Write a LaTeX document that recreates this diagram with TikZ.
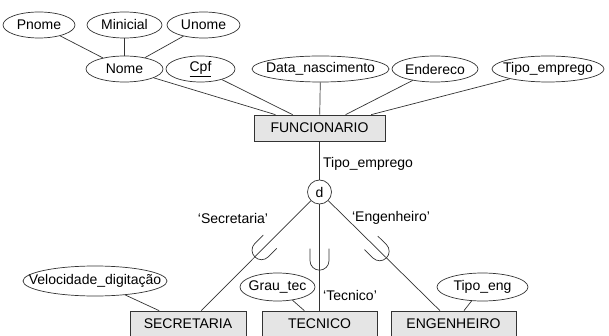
\documentclass[tikz,border=0pt]{standalone}
\usepackage{fontspec}
\setmainfont{Liberation Sans}
\usetikzlibrary{shapes.geometric}

\tikzset{
  attr/.style={ellipse, draw, minimum height=26pt, inner sep=0pt},
  entity/.style={rectangle, draw, fill=black!10, minimum height=26pt, inner sep=0pt},
  disj/.style={circle, draw, fill=white, minimum size=24pt, inner sep=0pt},
  pics/unioncup/.style={code={\draw (-12,-9.5) -- (0,-9.5) arc (-90:90:9.5) -- (-12,9.5);}}
}

\begin{document}
\begin{tikzpicture}[x=1pt, y=-1pt, line width=0.7pt, draw=black!80,
    font=\fontsize{14}{16}\selectfont]
    \useasboundingbox (0,0) rectangle (609,336);

    % atributos compostos
    \node[attr, minimum width=72pt, label=center:Pnome] (pnome) at (39,25) {};
    \node[attr, minimum width=75pt, label=center:Minicial] (minicial) at (124.5,25) {};
    \node[attr, minimum width=73pt, label=center:Unome] (unome) at (203.5,25) {};

    % atributos de FUNCIONARIO
    \node[attr, minimum width=77pt, label=center:Nome] (nome) at (124.5,69) {};
    \node[attr, minimum width=69pt, label=center:\underline{Cpf}] (cpf) at (200.5,69) {};
    \node[attr, minimum width=137pt, label=center:Data\_nascimento] (datanasc) at (320.5,69) {};
    \node[attr, minimum width=86pt, label=center:Endereco] (endereco) at (435,69) {};
    \node[attr, minimum width=112pt, label=center:Tipo\_emprego] (tipoemp) at (548,69) {};

    \node[entity, minimum width=131pt] (func) at (319.5,128) {FUNCIONARIO};
    \node[disj] (d) at (319.5,192) {d};

    % subclasses
    \node[entity, minimum width=116pt] (sec) at (188,324) {SECRETARIA};
    \node[entity, minimum width=115pt] (tec) at (319.5,324) {TECNICO};
    \node[entity, minimum width=125pt] (eng) at (453.5,324) {ENGENHEIRO};

    \node[attr, minimum width=144pt, minimum height=30pt, label=center:Velocidade\_digitação] (veloc) at (95,281) {};
    \node[attr, minimum width=75pt, minimum height=28pt, label=center:Grau\_tec] (grautec) at (277.5,287) {};
    \node[attr, minimum width=91pt, minimum height=28pt, label=center:Tipo\_eng] (tipoeng) at (482.5,287) {};

    \path (pnome) edge (nome);
    \path (minicial) edge (nome);
    \path (unome) edge (nome);

    \path (nome) edge (func);
    \path (cpf) edge (func);
    \path (datanasc) edge (func);
    \path (endereco) edge (func);
    \path (tipoemp) edge (func);

    \draw (func) -- node[right, pos=0.6] {Tipo\_emprego} (d);

    \draw (d) -- pic[pos=0.45, sloped, allow upside down] {unioncup} (sec);
    \draw (d) -- pic[pos=0.53, sloped, allow upside down] {unioncup}
      node[right, pos=0.86] {‘Tecnico’} (tec);
    \draw (d) -- pic[pos=0.46, sloped, allow upside down] {unioncup} (eng);

    \node (lblsec) at (233,218) {‘Secretaria’};
    \node (lbleng) at (391,218) {‘Engenheiro’};

    \path (veloc) edge (sec);
    \path (grautec) edge (tec);
    \path (tipoeng) edge (eng);
\end{tikzpicture}
\end{document}
